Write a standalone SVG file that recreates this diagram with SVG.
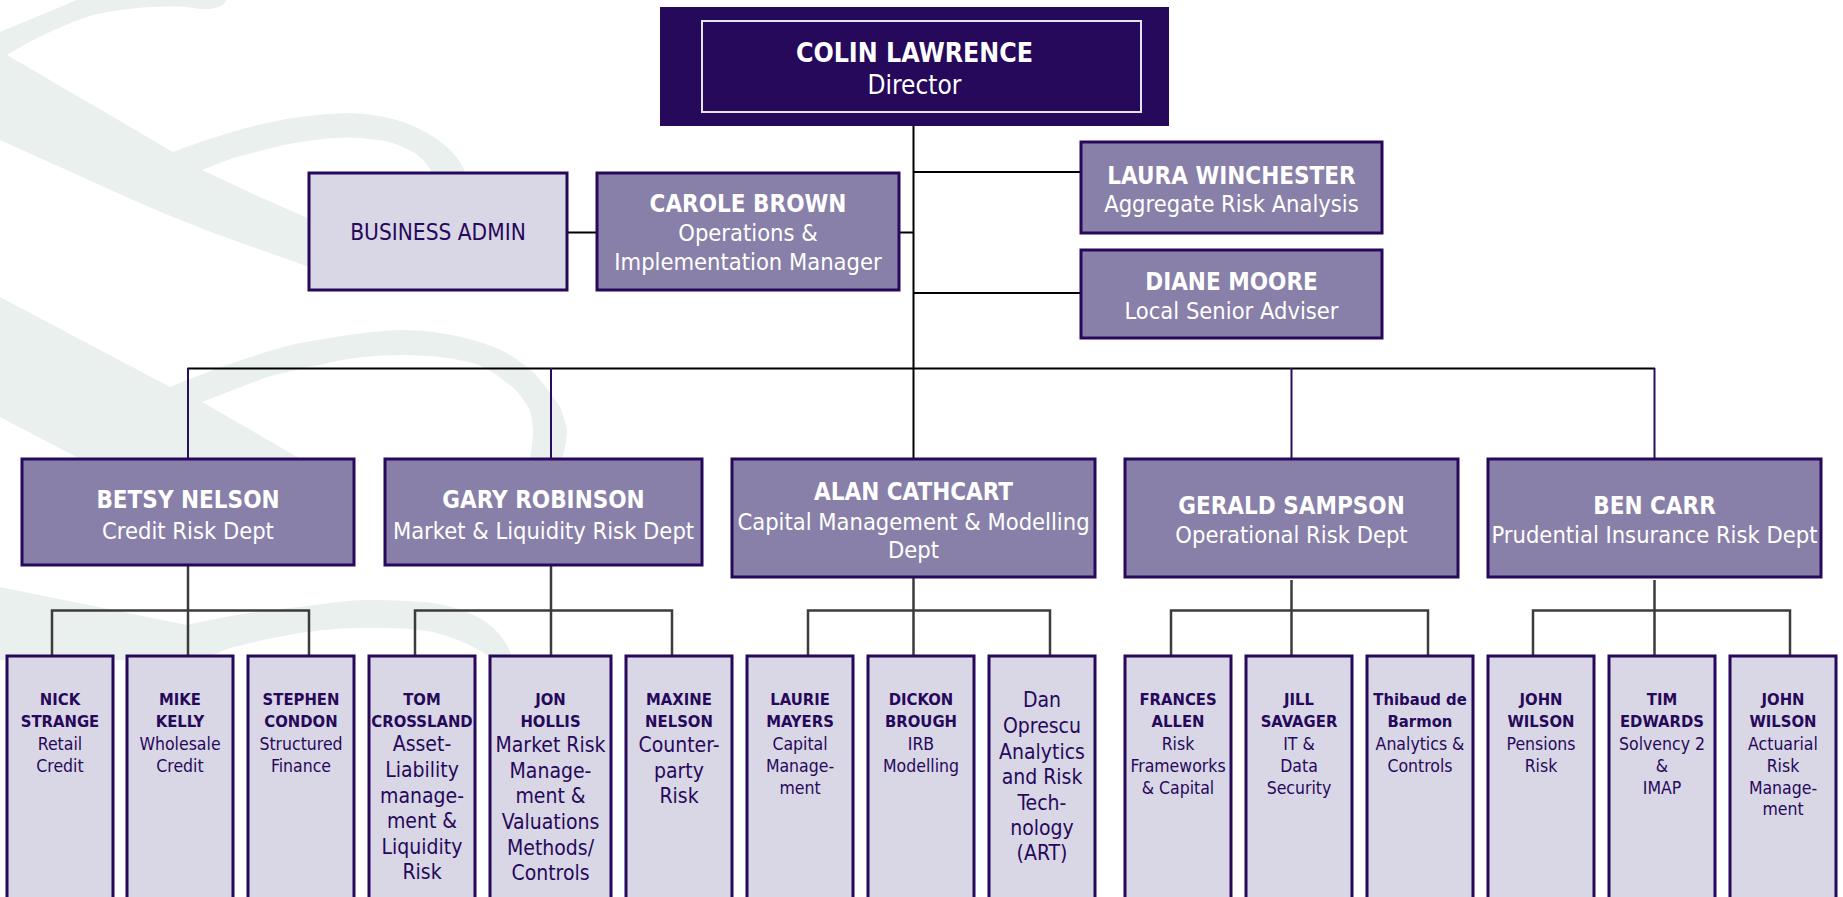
<svg xmlns="http://www.w3.org/2000/svg" width="1843" height="897" viewBox="0 0 1843 897">
<style>
text{font-family:'DejaVu Sans Condensed','DejaVu Sans',sans-serif;font-stretch:condensed;text-anchor:middle}
.wm{fill:#e9f0ed;stroke:none}
.box{stroke:#26095a;stroke-width:3}
.dark{fill:#26095a}
.mid{fill:#8880a8}
.light{fill:#d9d6e6}
.nm{font-weight:bold;font-size:24px;fill:#ffffff}
.rl{font-size:23.5px;fill:#ffffff}
.cn{font-weight:bold;font-size:16.5px;fill:#26095a}
.cr{font-size:17.5px;fill:#26095a}
.cb{font-size:21px;fill:#26095a}
.main{stroke:#000;stroke-width:2;fill:none}
.pur{stroke:#2a0e5e;stroke-width:2;fill:none}
.sub{stroke:#3c3c3c;stroke-width:2.5;fill:none}
</style>
<rect width="1843" height="897" fill="#ffffff"/>
<g id="watermark">
<path class="wm" d="M0,32 L77,0 L227,0 C222,8 210,10 200,9 L187,7 C160,5 120,8 93,15 C70,22 40,35 7,55 L173,152 C210,138 260,122 300,117 C330,113 355,112 373,115 C400,119 425,128 447,147 C458,157 463,165 468,180 L436,180 C428,163 420,156 413,152 C400,145 390,141 377,140 C360,137 345,137 333,138 C310,140 295,143 283,145 C260,151 245,155 233,158 L202,170 L262,198 L312,220 L312,268 L233,240 C200,228 165,214 133,200 L0,140 Z"/>
<path class="wm" d="M0,297 L170,387 C200,375 215,369 233,363 C260,354 280,347 300,343 C340,336 370,331 400,330 C430,330 455,335 473,340 C490,345 503,350 513,357 C528,367 535,373 540,380 C552,395 558,404 560,407 C565,420 567,428 567,430 C567,440 565,447 563,455 L555,470 L528,470 C531,455 533,440 533,430 C532,420 531,414 530,410 C522,396 515,388 507,383 C495,373 485,367 473,363 C450,357 425,355 400,355 C375,355 350,358 333,362 C305,368 285,372 267,377 L202,402 L320,470 L120,480 L63,450 L0,417 Z"/>
<path class="wm" d="M0,587 L187,625 C230,615 265,610 300,607 C330,603 350,600 367,600 C395,600 415,601 433,603 C455,607 470,612 483,620 C497,630 507,640 513,660 L493,660 C488,655 480,650 473,647 C460,640 445,635 433,632 C410,628 390,628 367,628 C340,628 320,630 300,633 C270,638 250,643 230,648 L200,660 L0,660 Z"/>
</g>
<g id="connectors">
<line class="main" x1="913.5" y1="125" x2="913.5" y2="459"/>
<line class="main" x1="187.5" y1="368.5" x2="1655" y2="368.5"/>
<line class="main" x1="913.5" y1="172" x2="1081" y2="172"/>
<line class="main" x1="913.5" y1="293" x2="1081" y2="293"/>
<line class="main" x1="899" y1="232.5" x2="913.5" y2="232.5"/>
<line class="main" x1="567" y1="232.5" x2="597" y2="232.5"/>
<line class="pur" x1="188" y1="368" x2="188" y2="459"/>
<line class="pur" x1="551" y1="368" x2="551" y2="459"/>
<line class="pur" x1="1291.5" y1="368" x2="1291.5" y2="459"/>
<line class="pur" x1="1654.5" y1="368" x2="1654.5" y2="459"/>
<path class="sub" d="M188,566 V610.5 M52,656 V610.5 H309 V656 M188,610.5 V656"/>
<path class="sub" d="M551,566 V610.5 M415,656 V610.5 H672 V656 M551,610.5 V656"/>
<path class="sub" d="M913.5,565 V610.5 M808,656 V610.5 H1050 V656 M913.5,610.5 V656"/>
<path class="sub" d="M1291.5,580 V610.5 M1171,656 V610.5 H1428 V656 M1291.5,610.5 V656"/>
<path class="sub" d="M1654.5,580 V610.5 M1533,656 V610.5 H1790 V656 M1654.5,610.5 V656"/>
</g>
<g id="colin">
<rect x="660" y="7" width="509" height="119" class="dark"/>
<rect x="702" y="21" width="439" height="91" fill="none" stroke="#e6e3ef" stroke-width="2"/>
<text x="914.5" y="61.5" style="font-weight:bold;font-size:26.5px;fill:#ffffff">COLIN LAWRENCE</text>
<text x="914.5" y="94" style="font-size:26px;fill:#ffffff">Director</text>
</g>
<g id="business-admin">
<rect x="309" y="173" width="258" height="117" class="box light"/>
<text x="438" y="240" style="font-size:22.5px;fill:#26095a">BUSINESS ADMIN</text>
</g>
<g id="carole">
<rect x="597" y="173" width="302" height="117" class="box mid"/>
<text x="748" y="212" class="nm">CAROLE BROWN</text>
<text x="748" y="241" class="rl">Operations &amp;</text>
<text x="748" y="270" class="rl">Implementation Manager</text>
</g>
<g id="laura">
<rect x="1081" y="142" width="301" height="91" class="box mid"/>
<text x="1231.5" y="183.5" class="nm">LAURA WINCHESTER</text>
<text x="1231.5" y="211.5" class="rl">Aggregate Risk Analysis</text>
</g>
<g id="diane">
<rect x="1081" y="250" width="301" height="88" class="box mid"/>
<text x="1231.5" y="290" class="nm">DIANE MOORE</text>
<text x="1231.5" y="319" class="rl">Local Senior Adviser</text>
</g>
<g id="betsy">
<rect x="22" y="459" width="332" height="106" class="box mid"/>
<text x="188" y="507.5" class="nm">BETSY NELSON</text>
<text x="188" y="538.5" class="rl">Credit Risk Dept</text>
</g>
<g id="gary">
<rect x="385" y="459" width="317" height="106" class="box mid"/>
<text x="543.5" y="507.5" class="nm">GARY ROBINSON</text>
<text x="543.5" y="538.5" class="rl">Market &amp; Liquidity Risk Dept</text>
</g>
<g id="alan">
<rect x="732" y="459" width="363" height="118" class="box mid"/>
<text x="913.5" y="500" class="nm">ALAN CATHCART</text>
<text x="913.5" y="529.5" class="rl">Capital Management &amp; Modelling</text>
<text x="913.5" y="557.5" class="rl">Dept</text>
</g>
<g id="gerald">
<rect x="1125" y="459" width="333" height="118" class="box mid"/>
<text x="1291.5" y="513.5" class="nm">GERALD SAMPSON</text>
<text x="1291.5" y="542.5" class="rl">Operational Risk Dept</text>
</g>
<g id="ben">
<rect x="1488" y="459" width="333" height="118" class="box mid"/>
<text x="1654.5" y="513.5" class="nm">BEN CARR</text>
<text x="1654.5" y="542.5" class="rl">Prudential Insurance Risk Dept</text>
</g>
<g id="nick">
<rect x="7" y="656" width="106" height="260" class="box light"/>
<text class="cn"><tspan x="60" y="705">NICK</tspan><tspan x="60" y="727">STRANGE</tspan></text>
<text class="cr"><tspan x="60" y="750">Retail</tspan><tspan x="60" y="772">Credit</tspan></text>
</g>
<g id="mike">
<rect x="127" y="656" width="106" height="260" class="box light"/>
<text class="cn"><tspan x="180" y="705">MIKE</tspan><tspan x="180" y="727">KELLY</tspan></text>
<text class="cr"><tspan x="180" y="750">Wholesale</tspan><tspan x="180" y="772">Credit</tspan></text>
</g>
<g id="stephen">
<rect x="248" y="656" width="106" height="260" class="box light"/>
<text class="cn"><tspan x="301" y="705">STEPHEN</tspan><tspan x="301" y="727">CONDON</tspan></text>
<text class="cr"><tspan x="301" y="750">Structured</tspan><tspan x="301" y="772">Finance</tspan></text>
</g>
<g id="tom">
<rect x="369" y="656" width="106" height="260" class="box light"/>
<text class="cn"><tspan x="422" y="705">TOM</tspan><tspan x="422" y="727">CROSSLAND</tspan></text>
<text class="cb"><tspan x="422" y="751">Asset-</tspan><tspan x="422" y="777">Liability</tspan><tspan x="422" y="802.5">manage-</tspan><tspan x="422" y="828">ment &amp;</tspan><tspan x="422" y="854">Liquidity</tspan><tspan x="422" y="879">Risk</tspan></text>
</g>
<g id="jon">
<rect x="490" y="656" width="121" height="260" class="box light"/>
<text class="cn"><tspan x="550.5" y="705">JON</tspan><tspan x="550.5" y="727">HOLLIS</tspan></text>
<text class="cb"><tspan x="550.5" y="752">Market Risk</tspan><tspan x="550.5" y="777.5">Manage-</tspan><tspan x="550.5" y="803">ment &amp;</tspan><tspan x="550.5" y="829">Valuations</tspan><tspan x="550.5" y="855">Methods/</tspan><tspan x="550.5" y="880">Controls</tspan></text>
</g>
<g id="maxine">
<rect x="626" y="656" width="106" height="260" class="box light"/>
<text class="cn"><tspan x="679" y="705">MAXINE</tspan><tspan x="679" y="727">NELSON</tspan></text>
<text class="cb"><tspan x="679" y="752">Counter-</tspan><tspan x="679" y="778">party</tspan><tspan x="679" y="803">Risk</tspan></text>
</g>
<g id="laurie">
<rect x="747" y="656" width="106" height="260" class="box light"/>
<text class="cn"><tspan x="800" y="705">LAURIE</tspan><tspan x="800" y="727">MAYERS</tspan></text>
<text class="cr"><tspan x="800" y="750">Capital</tspan><tspan x="800" y="772">Manage-</tspan><tspan x="800" y="793.5">ment</tspan></text>
</g>
<g id="dickon">
<rect x="868" y="656" width="106" height="260" class="box light"/>
<text class="cn"><tspan x="921" y="705">DICKON</tspan><tspan x="921" y="727">BROUGH</tspan></text>
<text class="cr"><tspan x="921" y="750">IRB</tspan><tspan x="921" y="772">Modelling</tspan></text>
</g>
<g id="dan">
<rect x="989" y="656" width="106" height="260" class="box light"/>
<text class="cb"><tspan x="1042" y="707">Dan</tspan><tspan x="1042" y="733">Oprescu</tspan><tspan x="1042" y="758.5">Analytics</tspan><tspan x="1042" y="783.5">and Risk</tspan><tspan x="1042" y="809.5">Tech-</tspan><tspan x="1042" y="834.5">nology</tspan><tspan x="1042" y="860">(ART)</tspan></text>
</g>
<g id="frances">
<rect x="1125" y="656" width="106" height="260" class="box light"/>
<text class="cn"><tspan x="1178" y="705">FRANCES</tspan><tspan x="1178" y="727">ALLEN</tspan></text>
<text class="cr"><tspan x="1178" y="750">Risk</tspan><tspan x="1178" y="772">Frameworks</tspan><tspan x="1178" y="793.5">&amp; Capital</tspan></text>
</g>
<g id="jill">
<rect x="1246" y="656" width="106" height="260" class="box light"/>
<text class="cn"><tspan x="1299" y="705">JILL</tspan><tspan x="1299" y="727">SAVAGER</tspan></text>
<text class="cr"><tspan x="1299" y="750">IT &amp;</tspan><tspan x="1299" y="772">Data</tspan><tspan x="1299" y="793.5">Security</tspan></text>
</g>
<g id="thibaud">
<rect x="1367" y="656" width="106" height="260" class="box light"/>
<text class="cn"><tspan x="1420" y="705">Thibaud de</tspan><tspan x="1420" y="727">Barmon</tspan></text>
<text class="cr"><tspan x="1420" y="750">Analytics &amp;</tspan><tspan x="1420" y="772">Controls</tspan></text>
</g>
<g id="john-wilson-pensions">
<rect x="1488" y="656" width="106" height="260" class="box light"/>
<text class="cn"><tspan x="1541" y="705">JOHN</tspan><tspan x="1541" y="727">WILSON</tspan></text>
<text class="cr"><tspan x="1541" y="750">Pensions</tspan><tspan x="1541" y="772">Risk</tspan></text>
</g>
<g id="tim">
<rect x="1609" y="656" width="106" height="260" class="box light"/>
<text class="cn"><tspan x="1662" y="705">TIM</tspan><tspan x="1662" y="727">EDWARDS</tspan></text>
<text class="cr"><tspan x="1662" y="750">Solvency 2</tspan><tspan x="1662" y="772">&amp;</tspan><tspan x="1662" y="793.5">IMAP</tspan></text>
</g>
<g id="john-wilson-actuarial">
<rect x="1730" y="656" width="106" height="260" class="box light"/>
<text class="cn"><tspan x="1783" y="705">JOHN</tspan><tspan x="1783" y="727">WILSON</tspan></text>
<text class="cr"><tspan x="1783" y="750">Actuarial</tspan><tspan x="1783" y="772">Risk</tspan><tspan x="1783" y="793.5">Manage-</tspan><tspan x="1783" y="815">ment</tspan></text>
</g>
</svg>
